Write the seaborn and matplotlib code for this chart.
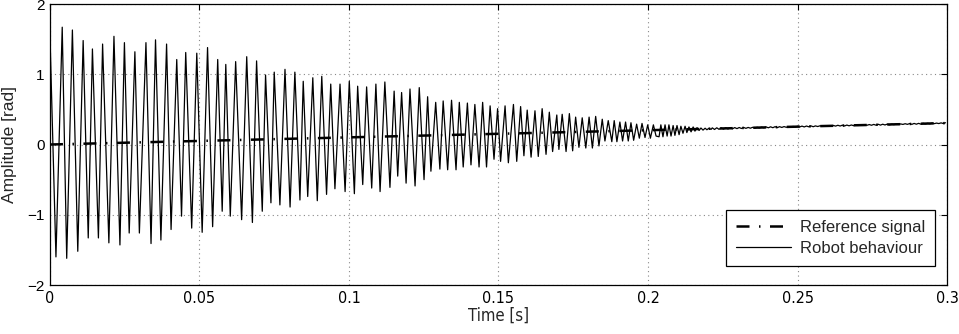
import numpy as np
import pandas as pd
import matplotlib
matplotlib.use("Agg")
import matplotlib.pyplot as plt
import matplotlib.font_manager as fm
import seaborn as sns

# Reference signal (ramp), time in s
ref_t = [0.0, 0.3]
ref_y = [0.0, 0.305]

# Robot behaviour: extrema (time in ms, amplitude in rad)
robot_t_ms = [
    0.0, 2.0, 4.1, 5.6, 7.5, 9.3, 11.1, 12.8, 14.2, 16.2,
    17.6, 19.7, 21.4, 23.4, 24.9, 26.5, 28.4, 29.9, 32.1, 33.8,
    35.3, 37.1, 39.0, 40.5, 42.4, 44.0, 45.4, 47.4, 49.1, 50.9,
    52.7, 54.4, 56.1, 57.6, 58.8, 60.3, 62.1, 64.1, 65.8, 67.7,
    69.1, 71.0, 72.1, 73.9, 75.0, 76.9, 78.6, 80.3, 81.9, 83.6,
    84.7, 86.2, 87.9, 89.4, 90.9, 92.5, 93.9, 95.3, 97.0, 98.7,
    100.1, 101.8, 102.9, 104.6, 105.9, 107.6, 109.0, 110.4, 112.0, 113.7,
    115.1, 116.3, 117.6, 119.1, 120.4, 122.1, 123.5, 125.1, 126.3, 127.4,
    129.0, 130.4, 131.5, 133.0, 134.3, 135.8, 136.9, 138.2, 139.6, 140.8,
    142.1, 143.5, 144.7, 146.0, 147.2, 148.5, 149.7, 150.7, 152.2, 153.3,
    155.0, 156.1, 157.4, 158.5, 159.6, 160.9, 162.2, 163.3, 164.6, 165.9,
    167.0, 168.1, 169.5, 170.2, 171.3, 172.6, 173.7, 174.8, 175.8, 176.9,
    178.0, 179.2, 180.3, 181.4, 182.5, 183.6, 184.7, 185.6, 186.7, 187.9,
    188.7, 189.6, 190.6, 191.5, 192.5, 193.4, 194.3, 195.2, 196.2, 197.1,
    198.0, 199.0, 199.9, 200.8, 201.8, 202.7, 203.7, 204.3, 205.0, 205.7,
    206.4, 207.0, 207.7, 208.4, 209.0, 209.7, 210.4, 211.0, 211.7, 212.4,
    213.0, 213.7, 214.4, 215.1, 215.7, 216.4, 217.1, 217.7, 218.4, 219.1,
    219.7, 220.4, 221.1,
]
robot_y = [
    1.55, -1.60, 1.67, -1.62, 1.63, -1.52, 1.48, -1.33, 1.36, -1.33,
    1.43, -1.40, 1.54, -1.43, 1.45, -1.26, 1.32, -1.26, 1.45, -1.41,
    1.49, -1.36, 1.43, -1.21, 1.21, -1.02, 1.31, -1.19, 1.30, -1.25,
    1.38, -1.17, 1.21, -0.95, 1.14, -1.02, 1.18, -1.07, 1.25, -1.11,
    1.19, -0.95, 0.99, -0.83, 1.03, -0.86, 1.07, -0.89, 1.03, -0.79,
    0.90, -0.74, 0.95, -0.80, 0.97, -0.71, 0.86, -0.63, 0.86, -0.67,
    0.90, -0.70, 0.83, -0.57, 0.82, -0.62, 0.86, -0.67, 0.89, -0.61,
    0.76, -0.45, 0.74, -0.55, 0.79, -0.59, 0.81, -0.50, 0.68, -0.38,
    0.60, -0.35, 0.62, -0.36, 0.63, -0.36, 0.60, -0.32, 0.59, -0.29,
    0.57, -0.32, 0.60, -0.32, 0.55, -0.21, 0.51, -0.24, 0.55, -0.26,
    0.57, -0.24, 0.54, -0.16, 0.49, -0.18, 0.48, -0.17, 0.51, -0.14,
    0.46, -0.10, 0.42, -0.07, 0.43, -0.10, 0.44, -0.09, 0.39, -0.04,
    0.38, -0.05, 0.39, -0.05, 0.40, -0.02, 0.36, 0.05, 0.34, 0.04,
    0.34, 0.04, 0.32, 0.05, 0.32, 0.05, 0.31, 0.06, 0.29, 0.09,
    0.30, 0.10, 0.28, 0.09, 0.28, 0.12, 0.11, 0.28, 0.11, 0.28,
    0.12, 0.28, 0.12, 0.27, 0.13, 0.27, 0.14, 0.26, 0.16, 0.26,
    0.17, 0.25, 0.18, 0.25, 0.19, 0.24, 0.20, 0.235, 0.205, 0.232,
    0.21, 0.232, 0.215,
]

# small residual ripple after ~0.22 s, sampled every 0.75 ms
tail_start_ms = 221.5
tail_step_ms = 0.75
tail_y = [
    0.237, 0.214, 0.238, 0.216, 0.238, 0.219, 0.240, 0.221, 0.240, 0.223,
    0.241, 0.226, 0.242, 0.228, 0.243, 0.230, 0.243, 0.232, 0.245, 0.234,
    0.245, 0.236, 0.247, 0.238, 0.250, 0.238, 0.252, 0.239, 0.254, 0.240,
    0.254, 0.243, 0.255, 0.245, 0.255, 0.248, 0.257, 0.249, 0.259, 0.250,
    0.262, 0.250, 0.263, 0.252, 0.265, 0.253, 0.265, 0.256, 0.266, 0.259,
    0.267, 0.260, 0.269, 0.262, 0.271, 0.262, 0.274, 0.263, 0.275, 0.264,
    0.277, 0.266, 0.278, 0.268, 0.278, 0.271, 0.280, 0.272, 0.281, 0.274,
    0.284, 0.274, 0.286, 0.275, 0.288, 0.276, 0.289, 0.278, 0.290, 0.280,
    0.290, 0.283, 0.292, 0.285, 0.293, 0.286, 0.296, 0.287, 0.298, 0.287,
    0.300, 0.289, 0.301, 0.290, 0.302, 0.293, 0.302, 0.295, 0.304, 0.297,
    0.305, 0.298, 0.308, 0.299, 0.310,
]

x_ticks = [0, 0.05, 0.1, 0.15, 0.2, 0.25, 0.3]
x_labels = ["0", "0.05", "0.1", "0.15", "0.2", "0.25", "0.3"]
y_ticks = [-2, -1, 0, 1, 2]


def narrow_font():
    """pick a condensed face for the x axis if one is installed"""
    fonts = fm.fontManager.ttflist
    names = {f.name for f in fonts}
    for cand in ['Liberation Sans Narrow', 'Arial Narrow', 'Nimbus Sans Narrow']:
        if cand in names:
            return fm.FontProperties(family=cand)
    for f in fonts:
        if f.name == 'DejaVu Sans' and f.stretch == 'condensed' and f.weight == 400:
            return fm.FontProperties(family='DejaVu Sans', stretch='condensed')
    return fm.FontProperties(family='Liberation Sans')


sns.set_style("white")
plt.rcParams['font.family'] = ['Liberation Sans', 'DejaVu Sans']

tail_t_ms = tail_start_ms + tail_step_ms * np.arange(len(tail_y))
robot = pd.DataFrame({
    't': np.concatenate([np.array(robot_t_ms), tail_t_ms]) / 1000.0,
    'y': np.concatenate([np.array(robot_y), np.array(tail_y)]),
})
reference = pd.DataFrame({'t': ref_t, 'y': ref_y})

fig = plt.figure(figsize=(9.59, 3.34), dpi=100)
ax = fig.add_axes([0.0521, 0.1467, 0.9354, 0.8413])

sns.lineplot(data=robot, x='t', y='y', estimator=None, sort=False,
             color='black', lw=0.9, ax=ax, label='Robot behaviour')
sns.lineplot(data=reference, x='t', y='y', estimator=None, sort=False,
             color='black', lw=1.8, linestyle=(0, (5.2, 3.8, 0.6, 3.8)),
             ax=ax, label='Reference signal')

nf = narrow_font()
xt = nf.copy()
xt.set_size(11.5)
xl = nf.copy()
xl.set_size(12)

ax.set_xlim(0, 0.3)
ax.set_ylim(-2, 2)
ax.set_xticks(x_ticks)
ax.set_xticklabels(x_labels, fontproperties=xt)
ax.set_yticks(y_ticks)
ax.set_yticklabels([str(v).replace('-', '\u2212') for v in y_ticks], fontsize=11)
ax.set_xlabel('Time [s]', fontproperties=xl, labelpad=1)
ax.set_ylabel('Amplitude [rad]', fontsize=12.5)
ax.yaxis.set_label_coords(-0.037, 0.5)

ax.grid(True, linestyle=(0, (1, 3)), color='#888888', lw=0.8)
ax.tick_params(direction='in', length=4, width=0.8, top=True, right=True,
               colors='black', pad=4)
for s in ax.spines.values():
    s.set_color('black')
    s.set_linewidth(0.9)

handles, labels = ax.get_legend_handles_labels()
leg = ax.legend(handles[::-1], labels[::-1], loc='lower right',
                bbox_to_anchor=(0.9866, 0.0676), borderaxespad=0,
                fontsize=12, frameon=True, fancybox=False, framealpha=1,
                edgecolor='black', handlelength=3.3, handletextpad=0.55,
                labelspacing=0.35, borderpad=0.6)
leg.get_frame().set_linewidth(0.9)

fig.savefig('out.png', dpi=100, facecolor='white')
